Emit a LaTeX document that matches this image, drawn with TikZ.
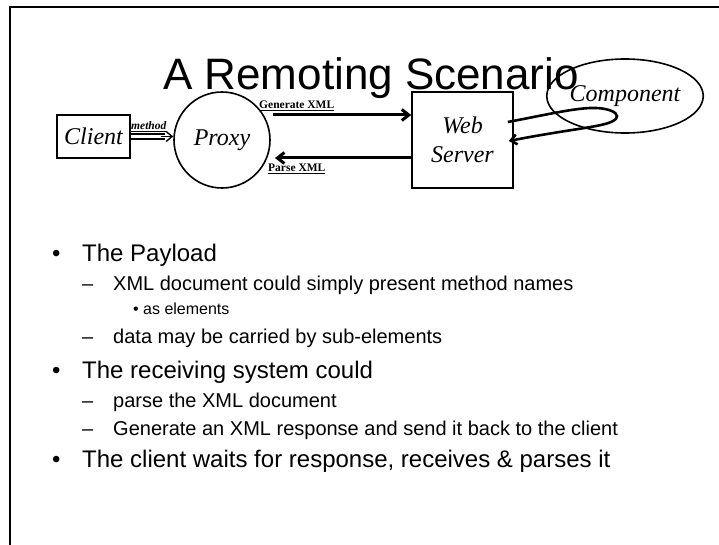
\documentclass[tikz,border=0pt]{standalone}
\usepackage{fontspec}
\setmainfont{Liberation Serif}
\newfontfamily\arialfont{Liberation Sans}
\usetikzlibrary{arrows.meta,shapes.geometric}
\begin{document}
\begin{tikzpicture}[x=1pt,y=-1pt,
  shapebox/.style={draw, line width=1.6pt, inner sep=0pt},
  lbl/.style={font=\fontsize{24}{29}\selectfont\itshape, align=center},
  arr/.style={line width=3pt, -{Straight Barb[length=7pt,width=11pt]}},
  tag/.style={font=\fontsize{11.5}{12}\selectfont\bfseries, inner sep=0pt, anchor=base west},
  lone/.style={font=\arialfont\fontsize{24}{24}\selectfont, inner sep=0pt, anchor=base west},
  ltwo/.style={font=\arialfont\fontsize{20}{20}\selectfont, inner sep=0pt, anchor=base west},
  lthree/.style={font=\arialfont\fontsize{16}{16}\selectfont, inner sep=0pt, anchor=base west},
]
\useasboundingbox (0,0) rectangle (719,545);
\fill[white] (0,0) rectangle (719,545);
\coordinate (fb) at (10,545);
\coordinate (ftl) at (10,7);
\coordinate (ftr) at (719,7);
\draw[line width=2pt] (fb) -- (ftl) -- (ftr);

% title
\node[font=\arialfont\fontsize{44}{44}\selectfont, inner sep=0pt, anchor=base] (title) at (371,90) {A Remoting Scenario};

% diagram nodes
\node[shapebox, minimum width=73pt, minimum height=43pt, lbl] (client) at (93.5,136.5) {Client};
\node[draw, circle, line width=1.6pt, minimum size=96pt, inner sep=0pt, lbl] (proxy) at (222,140) {Proxy};
\node[shapebox, minimum width=101pt, minimum height=96pt, lbl] (web) at (462.5,140) {Web\\Server};
\node[draw, ellipse, line width=1.6pt, minimum width=114pt, minimum height=74pt, inner sep=0pt, lbl] (comp) at (625,96) {Component};

% method double arrow
\draw[line width=1.4pt] ([yshift=2.5pt]client.east) -- ([xshift=34pt,yshift=2.5pt]client.east);
\draw[line width=1.4pt] ([yshift=-2.5pt]client.east) -- ([xshift=34pt,yshift=-2.5pt]client.east);
\draw[line width=1.4pt, -{Straight Barb[length=6pt,width=10pt]}] ([xshift=30pt]client.east) -- (client.east -| proxy.west);
\node[tag, font=\fontsize{11.5}{12}\selectfont\bfseries\itshape] (method) at (131,130) {\underline{method}};

% Generate / Parse arrows
\draw[arr] ([shift={(51,-25)}]proxy.center) -- ([yshift=25pt]web.west);
\node[tag] (gen) at (259,108.5) {\underline{Generate XML}};
\draw[arr] ([yshift=-18pt]web.west) -- ([shift={(53,18)}]proxy.center);
\node[tag] (parse) at (268,172) {\underline{Parse XML}};

% loop to component
\draw[line width=2.6pt, -{Straight Barb[length=6pt,width=10pt]}]
  ([shift={(-6,-18)}]web.east) .. controls (545,115) and (570,109) .. (590,108)
  .. controls (615,107) and (628,118) .. (605,124)
  .. controls (590,128) and (560,131) .. ([shift={(-5,1)}]web.east);

% bullets
\node[lone] (b1) at (52,261) {•};
\node[lone] (t1) at (82,261) {The Payload};
\node[ltwo] (d1) at (82,290) {–};
\node[ltwo] (t2) at (113,290) {XML document could simply present method names};
\node[lthree] (b2) at (133,314) {•};
\node[lthree] (t3) at (143,314) {as elements};
\node[ltwo] (d2) at (82,343) {–};
\node[ltwo] (t4) at (113,343) {data may be carried by sub-elements};
\node[lone] (b3) at (52,378) {•};
\node[lone] (t5) at (82,378) {The receiving system could};
\node[ltwo] (d3) at (82,407) {–};
\node[ltwo] (t6) at (113,407) {parse the XML document};
\node[ltwo] (d4) at (82,435) {–};
\node[ltwo] (t7) at (113,435) {Generate an XML response and send it back to the client};
\node[lone] (b4) at (52,467) {•};
\node[lone] (t8) at (82,467) {The client waits for response, receives \& parses it};
\end{tikzpicture}
\end{document}
